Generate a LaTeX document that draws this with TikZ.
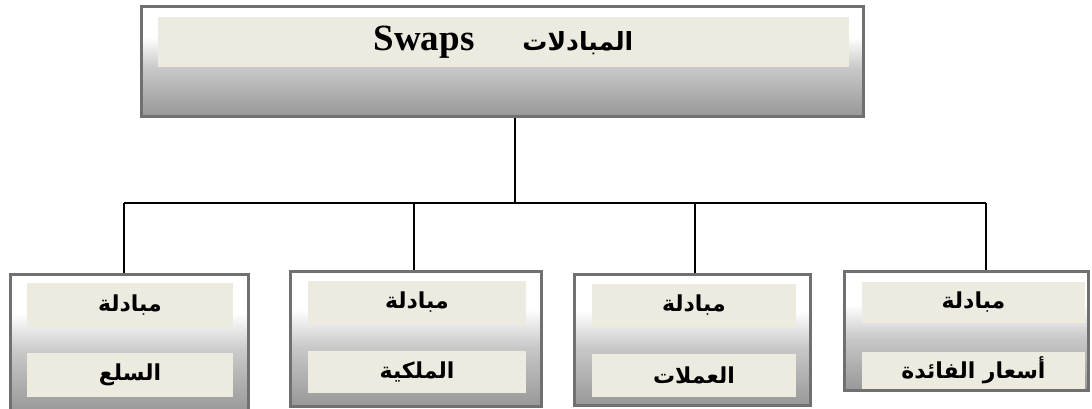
\documentclass[tikz,border=0pt]{standalone}
\usepackage{fontspec}
\setmainfont{Liberation Serif}
\newfontfamily\arabicfont[Script=Arabic]{DejaVu Sans}
\TeXXeTstate=1
\definecolor{shdark}{RGB}{152,152,152}
\definecolor{shmid}{RGB}{200,200,200}
\definecolor{cream}{RGB}{237,235,224}
\definecolor{bordergray}{RGB}{112,112,112}
\pgfdeclareverticalshading{boxshade}{100bp}{color(0bp)=(shdark); color(25bp)=(shdark); color(47bp)=(shmid); color(61bp)=(white); color(100bp)=(white)}
\tikzset{
  outerbox/.style={draw=bordergray, line width=3pt, shading=boxshade, rectangle, inner sep=0pt},
  band/.style={fill=cream, rectangle, inner sep=0pt},
  lbl/.style={font=\arabicfont\bfseries\fontsize{22}{26}\selectfont},
  conn/.style={line width=2pt, black}
}
\begin{document}
\begin{tikzpicture}[x=1pt,y=-1pt]
\useasboundingbox (0,0) rectangle (1092,409);
\clip (0,0) rectangle (1092,409);
% top box
\node[outerbox, minimum width=722pt, minimum height=110pt] (top) at (502.5,61.5) {};
\node[band, minimum width=691pt, minimum height=50pt] (topband) at (503.5,42)
  {\raisebox{-3pt}{{\fontsize{37}{40}\selectfont\bfseries Swaps}\hspace{48pt}{\arabicfont\bfseries\fontsize{25}{30}\selectfont\beginR المبادلات\endR}}};
% bottom boxes
\node[outerbox, minimum width=238pt, minimum height=138pt] (b1) at (129.5,343.5) {};
\node[band, lbl, minimum width=206pt, minimum height=44pt] (b1t) at (130,305) {\beginR مبادلة\endR};
\node[band, lbl, minimum width=206pt, minimum height=44pt] (b1b) at (130,375) {\beginR السلع\endR};

\node[outerbox, minimum width=251pt, minimum height=135pt] (b2) at (416,339) {};
\node[band, lbl, minimum width=218pt, minimum height=43pt] (b2t) at (417,302.5) {\beginR مبادلة\endR};
\node[band, lbl, minimum width=218pt, minimum height=42pt] (b2b) at (417,372) {\beginR الملكية\endR};

\node[outerbox, minimum width=236pt, minimum height=131pt] (b3) at (692.5,340) {};
\node[band, lbl, minimum width=204pt, minimum height=43pt] (b3t) at (694,305.5) {\beginR مبادلة\endR};
\node[band, lbl, minimum width=204pt, minimum height=43pt] (b3b) at (694,375.5) {\beginR العملات\endR};

\node[outerbox, minimum width=244pt, minimum height=119pt] (b4) at (966.5,331) {};
\node[band, lbl, minimum width=223pt, minimum height=41pt] (b4t) at (973.5,302.5) {\beginR مبادلة\endR};
\node[band, lbl, minimum width=223pt, minimum height=37pt] (b4b) at (973.5,370.5) {\beginR أسعار الفائدة\endR};
% connectors
\coordinate (hub) at (515,203);
\coordinate (c1) at (124,203);
\coordinate (c2) at (414,203);
\coordinate (c3) at (695,203);
\coordinate (c4) at (986,203);
\draw[conn] (top.south -| hub) -- (hub);
\draw[conn] (c1) -- (c4);
\draw[conn] (c1) -- (c1 |- b1.north);
\draw[conn] (c2) -- (c2 |- b2.north);
\draw[conn] (c3) -- (c3 |- b3.north);
\draw[conn] (c4) -- (c4 |- b4.north);
\end{tikzpicture}
\end{document}
